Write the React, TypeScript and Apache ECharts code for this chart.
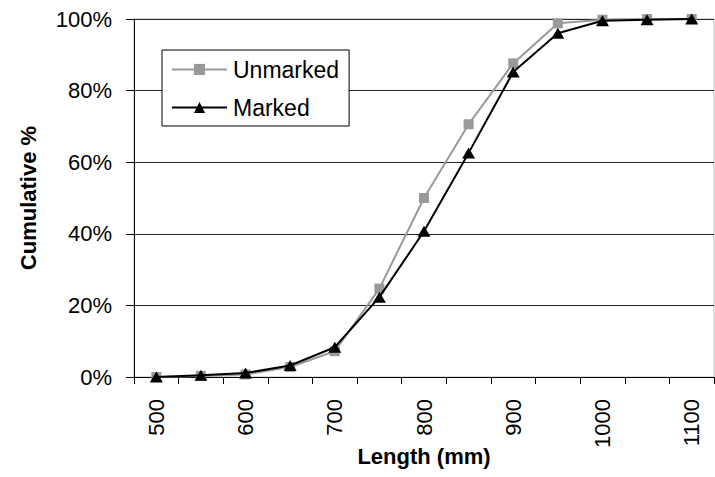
import React, { useEffect, useRef } from "react";
import * as echarts from "echarts";

const categories = ["500", "550", "600", "650", "700", "750", "800", "850", "900", "950", "1000", "1050", "1100"];
const unmarked = [0, 0.3, 0.7, 2.8, 7.2, 24.7, 50.0, 70.6, 87.6, 98.8, 99.8, 100, 100];
const marked = [0, 0.5, 1.1, 3.2, 8.3, 22.3, 40.7, 62.6, 85.2, 96.0, 99.5, 99.8, 100];

const FONT = "Arial, 'Liberation Sans', sans-serif";

export default function App() {
  const ref = useRef<HTMLDivElement>(null);
  useEffect(() => {
    if (!ref.current) return;
    const chart = echarts.init(ref.current, null, { renderer: "svg" });
    chart.setOption({
      animation: false,
      backgroundColor: "#fff",
      textStyle: { fontFamily: FONT },
      grid: {
        left: 134,
        right: 1,
        top: 19,
        bottom: 100,
        show: true,
        borderColor: "#bbb",
        borderWidth: 1,
        containLabel: false,
        outerBoundsMode: "none",
      },
      legend: {
        orient: "vertical",
        left: 162,
        top: 50,
        padding: [8, 10, 7, 9],
        itemGap: 15,
        itemWidth: 55,
        itemHeight: 14,
        backgroundColor: "#fff",
        borderColor: "#000",
        borderWidth: 1,
        borderRadius: 0,
        textStyle: { fontSize: 23, color: "#000", fontFamily: FONT, padding: [0, 0, 0, 1] },
        data: ["Unmarked", "Marked"],
      },
      xAxis: {
        type: "category",
        data: categories,
        boundaryGap: true,
        name: "Length (mm)",
        nameLocation: "middle",
        nameGap: 68,
        nameMoveOverlap: false,
        nameTextStyle: { fontSize: 22, fontWeight: "bold", color: "#000", fontFamily: FONT },
        axisLine: { lineStyle: { color: "#000", width: 1 } },
        axisTick: { show: true, interval: 0, length: 7, lineStyle: { color: "#000" } },
        axisLabel: { interval: 1, rotate: 90, margin: 22, fontSize: 22, color: "#000", fontFamily: FONT },
        splitLine: { show: false },
      },
      yAxis: {
        type: "value",
        min: 0,
        max: 100,
        interval: 20,
        name: "Cumulative %",
        nameLocation: "middle",
        nameGap: 95,
        nameMoveOverlap: false,
        nameTextStyle: { fontSize: 22, fontWeight: "bold", color: "#000", fontFamily: FONT },
        axisLine: { show: true, lineStyle: { color: "#000", width: 1 } },
        axisTick: { show: true, length: 8, lineStyle: { color: "#000" } },
        axisLabel: { formatter: "{value}%", margin: 22, fontSize: 22, color: "#000", fontFamily: FONT },
        splitLine: { show: true, lineStyle: { color: "#222", width: 1 } },
      },
      series: [
        {
          name: "Unmarked",
          type: "line",
          data: unmarked,
          symbol: "rect",
          symbolSize: 10,
          itemStyle: { color: "#999" },
          lineStyle: { color: "#999", width: 2 },
          z: 2,
        },
        {
          name: "Marked",
          type: "line",
          data: marked,
          symbol: "triangle",
          symbolSize: [13, 11],
          itemStyle: { color: "#000" },
          lineStyle: { color: "#000", width: 2 },
          z: 3,
        },
      ],
    });
    return () => chart.dispose();
  }, []);
  return (
    <div
      ref={ref}
      style={{ position: "fixed", left: 0, top: 0, width: 715, height: 477, background: "#fff" }}
    />
  );
}
